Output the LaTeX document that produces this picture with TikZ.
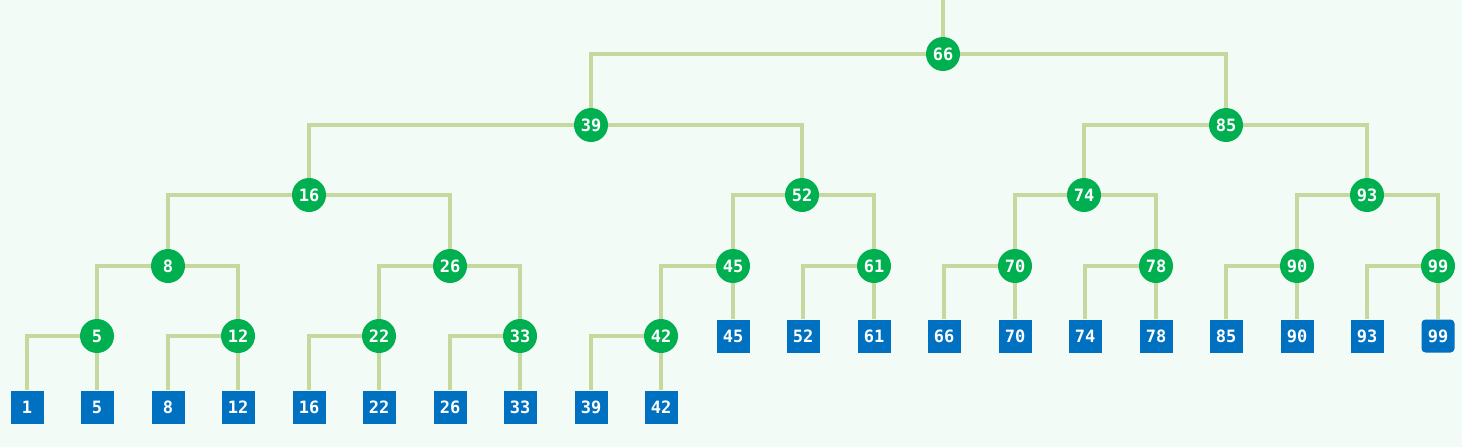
\documentclass[tikz,border=0pt]{standalone}
\usepackage{fontspec}
\setmonofont{DejaVu Sans Mono}
\definecolor{bg}{HTML}{F2FBF6}
\definecolor{edge}{HTML}{C5D89D}
\definecolor{cgreen}{HTML}{00B050}
\definecolor{cblue}{HTML}{0070C0}
\pgfdeclarelayer{bgl}
\pgfsetlayers{bgl,main}
\begin{document}
\begin{tikzpicture}[x=1pt,y=-1pt,
  inner/.style={circle,fill=cgreen,minimum size=34pt,inner sep=0pt,text=white,font=\ttfamily\bfseries\fontsize{17}{17}\selectfont},
  leaf/.style={rectangle,fill=cblue,minimum size=33pt,inner sep=0pt,text=white,font=\ttfamily\bfseries\fontsize{17}{17}\selectfont},
  conn/.style={draw=edge,line width=3.5pt}]
\begin{pgfonlayer}{bgl}
\fill[bg] (0,0) rectangle (1462,447);
\end{pgfonlayer}
\useasboundingbox (0,0) rectangle (1462,447);
\coordinate (top) at (943,0);
% internal nodes
\foreach \n/\x/\y in {66/943/54, 39/591/125, 85/1226/125, 16/309/195, 52/802/195, 74/1084/195, 93/1367/195,
  8/168/266, 26/450/266, 45/733/266, 61/874/266, 70/1015/266, 78/1156/266, 90/1297/266, 99/1438/266,
  5/97/336, 12/238/336, 22/379/336, 33/520/336, 42/661/336}
  \node[inner] (i\n) at (\x,\y) {\n};
% leaves
\foreach \n/\x in {1/27, 5/97, 8/168, 12/238, 16/309, 22/379, 26/450, 33/520, 39/591, 42/661}
  \node[leaf] (l\n) at (\x,407) {\n};
\foreach \n/\x in {45/733, 52/803, 61/874, 66/944, 70/1015, 74/1085, 78/1156, 85/1226, 90/1297, 93/1367}
  \node[leaf] (l\n) at (\x,336) {\n};
\node[leaf,rounded corners=4pt] (l99) at (1438,336) {99};
% connectors
\begin{pgfonlayer}{bgl}
\draw[conn] (top) -- (i66);
\foreach \p/\c in {i66/i39, i66/i85, i39/i16, i39/i52, i85/i74, i85/i93,
  i16/i8, i16/i26, i52/i45, i52/i61, i74/i70, i74/i78, i93/i90, i93/i99,
  i8/i5, i8/i12, i26/i22, i26/i33, i45/i42,
  i61/l52, i70/l66, i78/l74, i90/l85, i99/l93,
  i5/l1, i12/l8, i22/l16, i33/l26, i42/l39}
  \draw[conn] (\p) -| (\c);
\foreach \p/\c in {i45/l45, i61/l61, i70/l70, i78/l78, i90/l90, i99/l99,
  i5/l5, i12/l12, i22/l22, i33/l33, i42/l42}
  \draw[conn] (\p) -- (\c);
\end{pgfonlayer}
\end{tikzpicture}
\end{document}
